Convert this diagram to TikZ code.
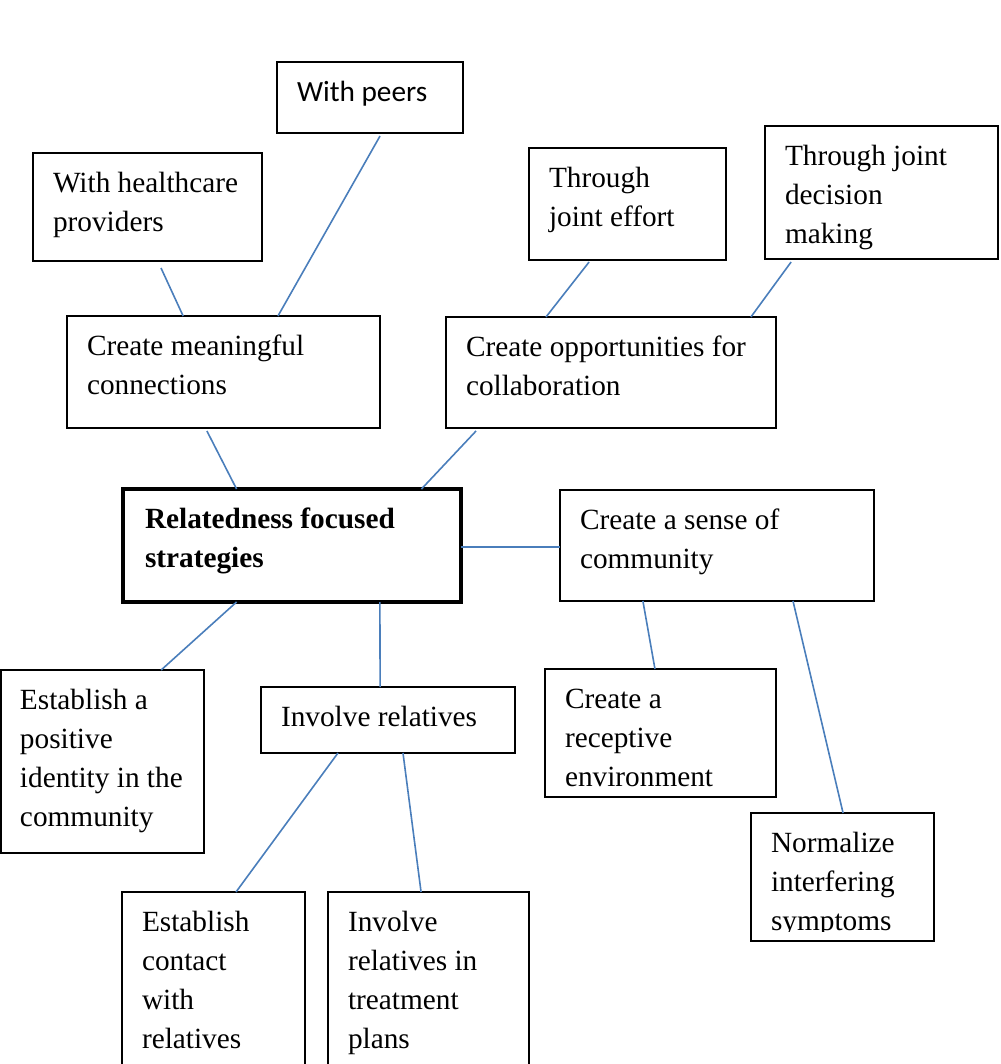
\documentclass[tikz,border=0pt]{standalone}
\usepackage{fontspec}
\setmainfont{Liberation Serif}
\newfontfamily\carlitofont{Carlito}
\usetikzlibrary{calc}

\definecolor{linkblue}{HTML}{4A7EBB}

% #1 left inset, #2 box width, #3 box height, #4 lines of text (top aligned)
\newcommand\boxtext[4][20pt]{\parbox[c][#3][t]{#2}{\raggedright\leftskip=#1\relax\vspace*{12.3pt}\strut #4}}

\tikzset{
  box/.style={draw=black, line width=1.8pt, anchor=north west, inner sep=0pt, outer sep=0pt,
              font=\fontsize{29.3}{39}\selectfont},
  mainbox/.style={box, line width=4.5pt},
  frame/.style={draw=black, line width=1.8pt},
  link/.style={draw=linkblue, line width=1.6pt},
}

\begin{document}
\begin{tikzpicture}[x=1pt, y=-1pt]
\useasboundingbox (0,0) rectangle (1000,1064);

% upper branch
\node[box] (peers) at (277,62) {\boxtext{186pt}{71pt}{\carlitofont With peers}};
\node[box] (hc) at (33,153) {\boxtext{229pt}{108pt}{With healthcare\\providers}};
\node[box] (cmc) at (67,316) {\boxtext{313pt}{112pt}{Create meaningful\\connections}};
\node[box] (effort) at (529,148) {\boxtext{197pt}{112pt}{Through\\joint effort}};
\node[box] (decision) at (765,126) {\boxtext{233pt}{133pt}{Through joint\\decision\\making}};
\node[box] (coc) at (446,317) {\boxtext{330pt}{111pt}{Create opportunities for\\collaboration}};

% centre
\node[mainbox] (core) at (123,489) {\boxtext[22pt]{338pt}{113pt}{\bfseries Relatedness focused\\strategies}};

% right branch
\node[box] (sense) at (560,490) {\boxtext{314pt}{111pt}{Create a sense of\\community}};
\node[box] (recep) at (545,669) {\boxtext{231pt}{128pt}{Create a\\receptive\\environment}};
\begin{scope}
  \clip (740,800) rectangle (950,931);
  \node[box, draw=none] (norm) at (751,813) {\boxtext{183pt}{128pt}{Normalize\\interfering\\symptoms}};
\end{scope}
\draw[frame] (norm.north west) rectangle (norm.south east);

% lower branch
\node[box] (ident) at (1,670) {\boxtext[19pt]{203pt}{183pt}{Establish a\\positive\\identity in the\\community}};
\node[box] (inv) at (261,687) {\boxtext{254pt}{66pt}{Involve relatives}};
\node[box] (contact) at (122,892) {\boxtext{183pt}{200pt}{Establish\\contact\\with\\relatives}};
\node[box] (treat) at (328,892) {\boxtext{201pt}{200pt}{Involve\\relatives in\\treatment\\plans}};

% connectors
\draw[link] ($(hc.south west)!0.559!(hc.south east)+(0,7)$) -- ($(cmc.north west)!0.371!(cmc.north east)$);
\draw[link] ($(peers.south west)!0.554!(peers.south east)+(0,3)$) -- ($(cmc.north west)!0.674!(cmc.north east)$);
\draw[link] ($(cmc.south west)!0.447!(cmc.south east)+(0,3)$) -- ($(core.north west)!0.336!(core.north east)$);
\draw[link] ($(effort.south west)!0.305!(effort.south east)+(0,2)$) -- ($(coc.north west)!0.303!(coc.north east)$);
\draw[link] ($(decision.south west)!0.112!(decision.south east)+(0,3)$) -- ($(coc.north west)!0.924!(coc.north east)$);
\draw[link] ($(coc.south west)!0.091!(coc.south east)+(0,3)$) -- ($(core.north west)!0.883!(core.north east)$);
\draw[link] ($(core.east)+(0,1.5)$) coordinate (coreright) -- (coreright -| sense.west);
\draw[link] ($(sense.south west)!0.264!(sense.south east)$) -- ($(recep.north west)!0.476!(recep.north east)$);
\draw[link] ($(sense.south west)!0.742!(sense.south east)$) -- ($(norm.north west)!0.503!(norm.north east)$);
\draw[link] ($(core.south west)!0.336!(core.south east)$) -- ($(ident.north west)!0.789!(ident.north east)$);
\draw[link] ($(core.south west)!0.760!(core.south east)$) -- ($(inv.north west)!0.469!(inv.north east)$);
\draw[link] ($(inv.south west)!0.303!(inv.south east)$) -- ($(contact.north west)!0.623!(contact.north east)$);
\draw[link] ($(inv.south west)!0.559!(inv.south east)$) -- ($(treat.north west)!0.463!(treat.north east)$);
\end{tikzpicture}
\end{document}
